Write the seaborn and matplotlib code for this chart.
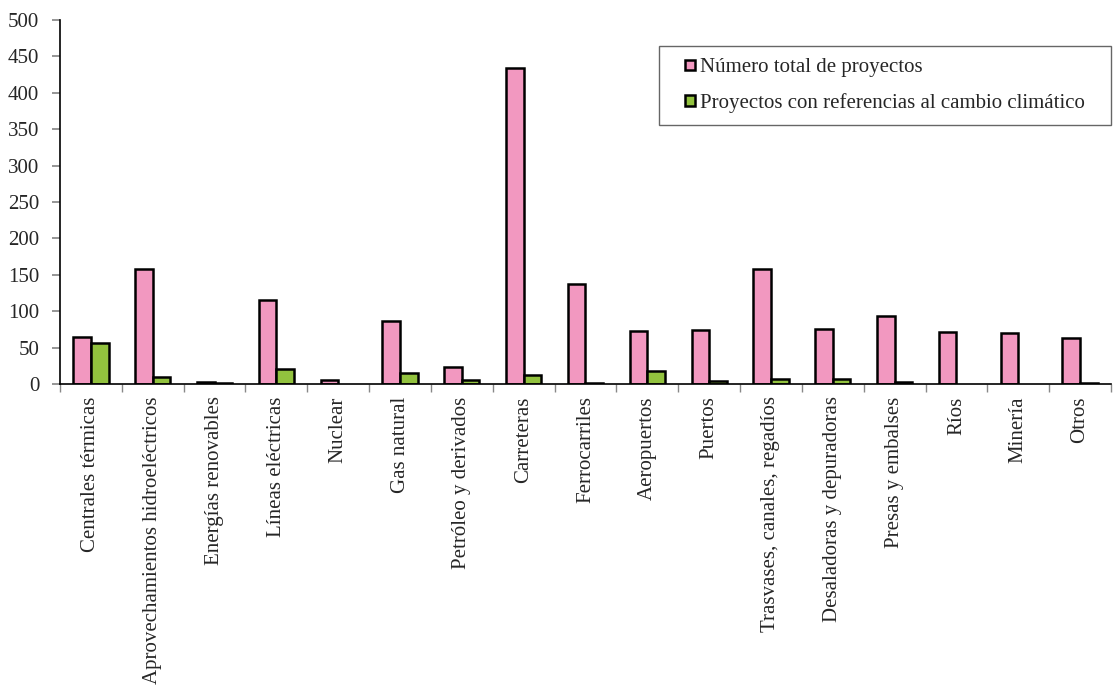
import numpy as np
import pandas as pd
import matplotlib
matplotlib.use("Agg")
import matplotlib.pyplot as plt
import seaborn as sns
from matplotlib.patches import Patch, Rectangle
from matplotlib.ticker import FixedLocator

categorias = [
    "Centrales térmicas", "Aprovechamientos hidroeléctricos", "Energías renovables",
    "Líneas eléctricas", "Nuclear", "Gas natural", "Petróleo y derivados",
    "Carreteras", "Ferrocarriles", "Aeropuertos", "Puertos",
    "Trasvases, canales, regadíos", "Desaladoras y depuradoras",
    "Presas y embalses", "Ríos", "Minería", "Otros",
]
total_proyectos = [65, 158, 3, 115, 6, 86, 24, 434, 137, 73, 74, 158, 75, 94, 72, 70, 63]
con_cambio_climatico = [56, 10, 2, 20, 0, 15, 6, 12, 2, 18, 4, 7, 7, 3, 0, 0, 2]

serie_total = "Número total de proyectos"
serie_cc = "Proyectos con referencias al cambio climático"

df = pd.DataFrame({
    "categoria": categorias * 2,
    "valor": total_proyectos + con_cambio_climatico,
    "serie": [serie_total] * len(categorias) + [serie_cc] * len(categorias),
})

sns.set_theme(style="white")
plt.rcParams["font.family"] = ["Liberation Serif", "DejaVu Serif"]
plt.rcParams["font.size"] = 15

fig = plt.figure(figsize=(11.13, 6.90), dpi=100)
ax = fig.add_axes([0.0539, 0.4435, 0.9443, 0.5275])

colores = {serie_total: "#F298C0", serie_cc: "#92C23E"}
sns.barplot(data=df, x="categoria", y="valor", hue="serie", order=categorias,
            hue_order=[serie_total, serie_cc], palette=colores, width=0.57,
            edgecolor="black", linewidth=1.8, saturation=1, ax=ax, legend=False)

# hide empty bars so only the axis line shows there
for p in ax.patches:
    if p.get_height() == 0:
        p.set_visible(False)

n = len(categorias)
ax.set_xlim(-0.5, n - 0.5)
ax.set_ylim(0, 500)
ax.set_yticks(np.arange(0, 501, 50))
ax.set_xlabel("")
ax.set_ylabel("")

ax.set_xticks(range(n))
ax.set_xticklabels(categorias, rotation=90, fontsize=15)
ax.tick_params(axis="x", which="major", length=0, pad=9)
ax.xaxis.set_minor_locator(FixedLocator(np.arange(-0.5, n, 1.0)))
ax.tick_params(axis="x", which="minor", length=6, color="#888888", width=1, direction="out", bottom=True)
ax.tick_params(axis="y", labelsize=15, length=6, color="#888888", direction="out", left=True, pad=9)

for s in ["top", "right"]:
    ax.spines[s].set_visible(False)
for s in ["left", "bottom"]:
    ax.spines[s].set_color("black")
    ax.spines[s].set_linewidth(1.2)

handles = [Patch(facecolor=colores[s], edgecolor="black", linewidth=1.8, label=s)
           for s in [serie_total, serie_cc]]
leg = ax.legend(handles=handles, loc="upper right", bbox_to_anchor=(0.9867, 0.929), fontsize=15,
                frameon=False, handlelength=0.5, handleheight=0.4, handletextpad=0.2,
                labelspacing=0.75, borderpad=0.6, borderaxespad=0)
leg.set_zorder(6)

# legend frame: a plain rectangle with extra horizontal margin around the entries
fig.canvas.draw()
bb = leg.get_window_extent().transformed(fig.transFigure.inverted())
extra = 14 / fig.bbox.width
ax.add_patch(Rectangle((bb.x0 - extra, bb.y0), bb.width + 2 * extra, bb.height,
                       transform=fig.transFigure, facecolor="white", edgecolor="#666666",
                       linewidth=1.0, zorder=5, clip_on=False))

fig.savefig("out.png", dpi=100, facecolor="white")
